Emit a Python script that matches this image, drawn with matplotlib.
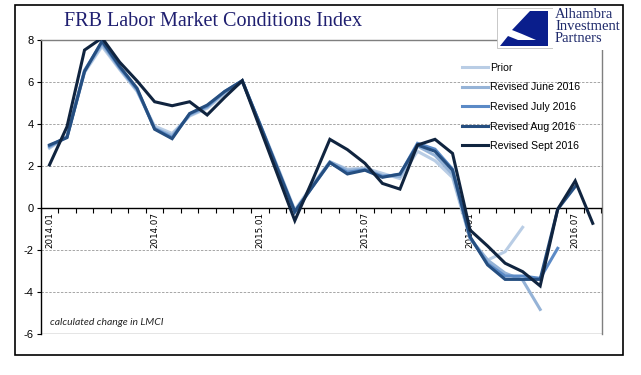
import matplotlib
matplotlib.use("Agg")
import matplotlib.pyplot as plt
import matplotlib.patches as mpatches
from matplotlib.ticker import FixedLocator, NullFormatter, FixedFormatter
import numpy as np
import pandas as pd

nan = np.nan

# monthly LMCI change, 2014.01 .. 2016.08
months = pd.date_range("2014-01-01", periods=32, freq="MS")
tick_labels = ["2014.01", "2014.07", "2015.01", "2015.07", "2016.01", "2016.07"]

prior = [2.85, 3.4, 6.45, 7.7, 6.6, 5.55, 3.9, 3.55, 4.38, 4.75, 5.45, 6.0,
         4.05, 2.0, -0.1, 1.1, 2.2, 1.85, 1.9, 1.65, 1.4, 2.7, 2.25, 1.45,
         -1.45, -2.48, -2.08, -0.92, nan, nan, nan, nan]
rev_june = [2.9, 3.4, 6.5, 7.8, 6.65, 5.6, 3.8, 3.45, 4.42, 4.8, 5.5, 6.06,
            4.0, 1.95, -0.15, 1.05, 2.2, 1.8, 1.85, 1.55, 1.5, 2.95, 2.5, 1.6,
            -1.45, -2.48, -3.1, -3.43, -4.83, nan, nan, nan]
rev_july = [2.95, 3.38, 6.55, 7.9, 6.7, 5.65, 3.78, 3.35, 4.48, 4.85, 5.55, 6.06,
            4.0, 1.9, -0.2, 1.0, 2.15, 1.7, 1.82, 1.5, 1.6, 3.08, 2.8, 1.85,
            -1.4, -2.65, -3.24, -3.24, -3.35, -1.92, nan, nan]
rev_aug = [3.0, 3.35, 6.5, 7.95, 6.75, 5.7, 3.75, 3.3, 4.5, 4.9, 5.55, 6.06,
           4.0, 1.9, -0.17, 1.0, 2.17, 1.62, 1.8, 1.46, 1.62, 3.0, 2.7, 1.8,
           -1.37, -2.71, -3.4, -3.4, -3.4, -0.06, 1.02, nan]
rev_sept = [2.05, 3.87, 7.52, 8.1, 6.95, 6.05, 5.06, 4.87, 5.06, 4.43, 5.27, 6.06,
            3.84, 1.62, -0.6, 1.3, 3.27, 2.78, 2.13, 1.17, 0.9, 3.0, 3.27, 2.6,
            -1.05, -1.81, -2.63, -3.03, -3.71, -0.06, 1.29, -0.73]

series = [
    ("Prior", prior, "#B9CDE5"),
    ("Revised June 2016", rev_june, "#95B3D7"),
    ("Revised July 2016", rev_july, "#5B8AC6"),
    ("Revised Aug 2016", rev_aug, "#254E80"),
    ("Revised Sept 2016", rev_sept, "#10243F"),
]

W, H = 641, 375
fig = plt.figure(figsize=(W / 100, H / 100), dpi=100)
ax = fig.add_axes([40.7 / W, 1 - 334 / H, (601.5 - 40.7) / W, (334 - 40) / H])

x = np.arange(len(months))
for name, vals, col in series:
    ax.plot(x, vals, color=col, lw=2.2, label=name, solid_joinstyle="miter", zorder=3)

ax.set_xlim(-0.5, len(months) - 0.5)
ax.set_ylim(-6, 8)
ax.set_yticks(range(-6, 9, 2))
ax.set_yticklabels([str(v) for v in range(-6, 9, 2)])
for lbl in ax.get_yticklabels():
    lbl.set_fontfamily("Liberation Sans")
    lbl.set_fontsize(8)
ax.tick_params(axis="y", length=3, width=0.8, pad=2, color="black")

# ticks between months, labels every 6 months
ax.xaxis.set_major_locator(FixedLocator(np.arange(-0.5, len(months), 1.0)))
ax.xaxis.set_major_formatter(NullFormatter())
ax.xaxis.set_minor_locator(FixedLocator(np.arange(0, len(months), 6)))
ax.xaxis.set_minor_formatter(FixedFormatter(tick_labels))
ax.tick_params(axis="x", which="major", length=3.5, width=0.8, direction="out", color="black")
ax.tick_params(axis="x", which="minor", length=0, pad=3, labelsize=6.3,
               labelrotation=90, labelfontfamily="DejaVu Sans")

for v in [-4, -2, 2, 4, 6]:
    ax.axhline(v, color="#A6A6A6", lw=0.7, ls=(0, (2.5, 1.5)), zorder=1)
ax.axhline(-6, color="#7F7F7F", lw=1.0, zorder=1)

ax.spines["bottom"].set_position(("data", 0))
ax.spines["bottom"].set_color("black")
ax.spines["bottom"].set_linewidth(1.0)
ax.spines["left"].set_color("black")
ax.spines["left"].set_linewidth(1.0)
ax.spines["top"].set_color("#7F7F7F")
ax.spines["right"].set_color("#7F7F7F")
ax.spines["top"].set_linewidth(1.0)
ax.spines["right"].set_linewidth(1.0)

leg = ax.legend(loc="upper left", bbox_to_anchor=(462 / W, 1 - 63 / H),
                bbox_transform=fig.transFigure, frameon=False,
                handlelength=2.5, handletextpad=0.15, labelspacing=0.9,
                borderpad=0, borderaxespad=0, prop={"family": "Liberation Sans", "size": 7.6})

ax.text(0.017, 0.03, "calculated change in LMCI", transform=ax.transAxes,
        fontsize=7.5, style="italic", family="Lato", color="#262626")

fig.text(64 / W, 1 - 21 / H, "FRB Labor Market Conditions Index", fontsize=14.5,
         family="Liberation Serif", color="#1F1F70", va="center", ha="left")

# logo block
fig.patches.append(mpatches.Rectangle((497 / W, 1 - 48 / H), 56 / W, 40 / H,
                                      transform=fig.transFigure, facecolor="white",
                                      edgecolor="#BFBFBF", lw=0.6, zorder=5))
fig.patches.append(mpatches.Rectangle((553 / W, 1 - 50 / H), 70 / W, 44 / H,
                                      transform=fig.transFigure, facecolor="white",
                                      edgecolor="none", zorder=5))
logo_pts = [(500, 46), (548, 46), (548, 11), (530, 11), (512, 30), (522, 34),
            (536, 40), (518, 40), (508, 36), (500, 46)]
fig.patches.append(mpatches.Polygon([(px / W, 1 - py / H) for px, py in logo_pts],
                                    closed=True, transform=fig.transFigure,
                                    facecolor="#0A1E8C", edgecolor="none", zorder=6))
fig.text(555 / W, 1 - 8 / H, "Alhambra\nInvestment\nPartners", fontsize=10.5,
         family="Liberation Serif", color="#1F2A6B", va="top", ha="left",
         linespacing=0.92, zorder=7)

# outer frame
fig.patches.append(mpatches.Rectangle((15 / W, 1 - 355 / H), 608 / W, 350 / H,
                                      transform=fig.transFigure, fill=False,
                                      edgecolor="black", lw=1.2, zorder=8))

fig.savefig("out.png", dpi=100, facecolor="white")
